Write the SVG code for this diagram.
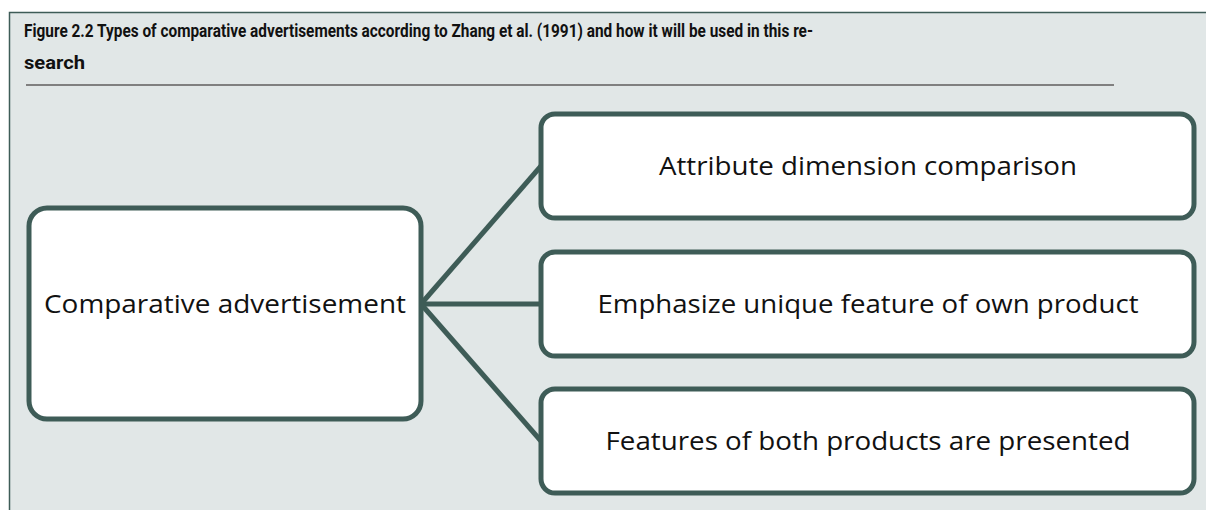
<svg xmlns="http://www.w3.org/2000/svg" width="1206" height="510" viewBox="0 0 1206 510">
  <style>
    .frame { fill: #E1E7E7; stroke: #3E5C57; stroke-width: 1.5; }
    .rule { stroke: #808080; stroke-width: 2; }
    .title { font-family: Roboto, "Liberation Sans", sans-serif; font-weight: bold; font-size: 18.5px; fill: #111; }
    .box { fill: #FFFFFF; stroke: #3E5C57; stroke-width: 5; }
    .label { font-family: "Open Sans", "Liberation Sans", sans-serif; font-size: 25px; fill: #111; text-anchor: middle; }
    .link { stroke: #3E5C57; stroke-width: 5; fill: none; }
  </style>

  <!-- panel background with caption -->
  <rect class="frame" x="9.5" y="12.5" width="1210" height="510"/>
  <text class="title" x="24" y="37" textLength="789" lengthAdjust="spacingAndGlyphs">Figure 2.2 Types of comparative advertisements according to Zhang et al. (1991) and how it will be used in this re-</text>
  <text class="title" x="24" y="69" textLength="61" lengthAdjust="spacingAndGlyphs">search</text>
  <line class="rule" x1="26" y1="85" x2="1114" y2="85"/>

  <!-- connectors from the root node to each type -->
  <g id="connectors">
    <line class="link" x1="421" y1="304" x2="541" y2="166"/>
    <line class="link" x1="421" y1="304" x2="541" y2="304"/>
    <line class="link" x1="421" y1="304" x2="541" y2="441"/>
  </g>

  <g id="root">
    <rect class="box" x="29" y="208" width="392" height="211" rx="18"/>
    <text class="label" x="225" y="313" textLength="362" lengthAdjust="spacingAndGlyphs">Comparative advertisement</text>
  </g>

  <g id="attribute">
    <rect class="box" x="541" y="114" width="653" height="104" rx="14"/>
    <text class="label" x="868" y="175" textLength="418" lengthAdjust="spacingAndGlyphs">Attribute dimension comparison</text>
  </g>

  <g id="unique">
    <rect class="box" x="541" y="252" width="653" height="104" rx="14"/>
    <text class="label" x="868" y="313" textLength="541" lengthAdjust="spacingAndGlyphs">Emphasize unique feature of own product</text>
  </g>

  <g id="both">
    <rect class="box" x="541" y="389" width="653" height="104" rx="14"/>
    <text class="label" x="868" y="450" textLength="525" lengthAdjust="spacingAndGlyphs">Features of both products are presented</text>
  </g>
</svg>
